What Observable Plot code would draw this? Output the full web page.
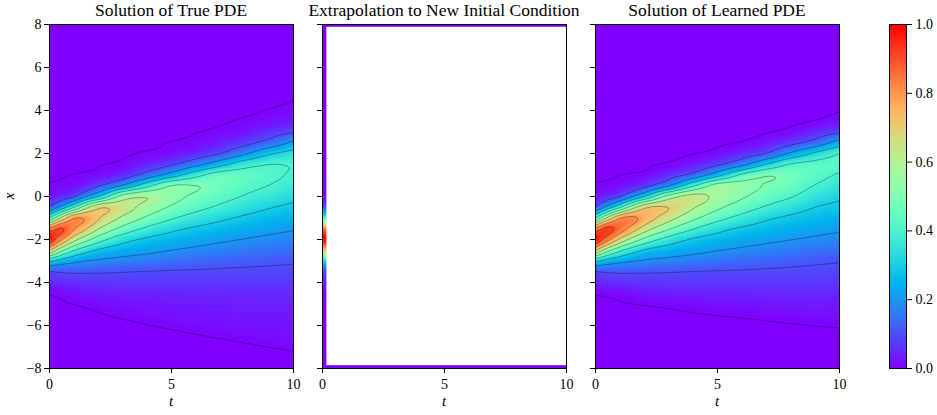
<!DOCTYPE html>
<html>
<head>
<meta charset="utf-8">
<script src="https://cdn.jsdelivr.net/npm/d3@7"></script>
<script src="https://cdn.jsdelivr.net/npm/@observablehq/plot@0.6"></script>
<style>
  body { margin: 0; background: #fff; }
  #fig { position: relative; width: 937px; height: 415px; background: #fff; }
  #fig svg { position: absolute; top: 0; }
  #fig svg, #fig svg text { font-family: 'Liberation Serif', 'Times New Roman', serif !important; }
</style>
</head>
<body>
<div id="fig"></div>
<script>
// ---------------- data ----------------
const tGrid = [0, 0.5, 1, 1.5, 2, 3, 4, 5, 6, 7, 8, 9, 10];
const xGrid = [8, 7, 6, 5.5, 5, 4.5, 4, 3.5, 3, 2.5, 2, 1.5, 1, 0.5, 0, -0.5, -1, -1.5, -2, -2.5, -3, -3.5, -4, -4.5, -5, -5.5, -6, -6.5, -7, -7.5, -8];

// u(t, x) of the true PDE: one row per xGrid value, one column per tGrid value
const truePDE = [
  [-.015,-.015,-.015,-.015,-.015,-.015,-.015,-.015,-.015,-.015,-.015,-.015,-.015],
  [-.015,-.015,-.015,-.015,-.015,-.015,-.015,-.015,-.015,-.015,-.015,-.015,-.015],
  [-.015,-.015,-.015,-.015,-.015,-.015,-.015,-.015,-.015,-.015,-.015,-.015,-.015],
  [-.015,-.015,-.015,-.015,-.015,-.015,-.015,-.015,-.015,-.015,-.015,-.015,-.015],
  [-.015,-.015,-.015,-.015,-.015,-.015,-.015,-.015,-.015,-.015,-.015,-.015,-.015],
  [-.015,-.015,-.015,-.015,-.015,-.015,-.015,-.015,-.015,-.015,-.015,-.0123,-.0009],
  [-.015,-.015,-.015,-.015,-.015,-.015,-.015,-.015,-.015,-.015,-.0087,.0027,.0141],
  [-.015,-.015,-.015,-.015,-.015,-.015,-.015,-.015,-.015,-.0051,.0063,.0177,.035],
  [-.015,-.015,-.015,-.015,-.015,-.015,-.015,-.0129,-.0015,.0099,.025,.061,.095],
  [-.015,-.015,-.015,-.015,-.015,-.015,-.0093,.0021,.0135,.04,.076,.134,.22],
  [-.015,-.015,-.015,-.015,-.015,-.0057,.0057,.018,.05,.1,.187,.284,.34],
  [-.015,-.015,-.0135,-.0078,-.0021,.0093,.043,.089,.169,.264,.358,.398,.393],
  [-.0099,-.0042,.0015,.0072,.0129,.05,.141,.248,.366,.447,.44,.418,.389],
  [.0051,.0108,.018,.045,.092,.214,.373,.501,.5,.465,.428,.398,.365],
  [.02,.05,.095,.2,.3,.54,.59,.532,.48,.435,.393,.359,.325],
  [.113,.244,.396,.567,.676,.644,.56,.488,.43,.383,.341,.306,.28],
  [.40,.627,.788,.785,.71,.58,.484,.411,.358,.318,.286,.263,.244],
  [.833,.905,.806,.705,.605,.468,.381,.322,.287,.263,.241,.222,.206],
  [.98,.803,.637,.533,.447,.339,.284,.257,.234,.214,.197,.183,.172],
  [.708,.525,.407,.337,.29,.246,.222,.2,.183,.169,.157,.147,.139],
  [.321,.26,.224,.2,.189,.172,.159,.145,.134,.125,.118,.112,.107],
  [.098,.108,.111,.109,.108,.103,.098,.095,.093,.091,.089,.088,.087],
  [.05,.055,.059,.0625,.065,.067,.068,.069,.069,.069,.07,.07,.07],
  [.0042,.0105,.02,.0325,.036,.04,.043,.045,.047,.049,.05,.052,.053],
  [-.0108,-.0045,.0015,.0066,.012,.021,.027,.03,.033,.036,.038,.04,.042],
  [-.015,-.015,-.0135,-.0084,-.003,.0066,.0141,.02,.024,.026,.028,.03,.031],
  [-.015,-.015,-.015,-.015,-.015,-.0084,-.0009,.006,.0126,.017,.02,.022,.024],
  [-.015,-.015,-.015,-.015,-.015,-.015,-.015,-.009,-.0024,.0036,.0096,.014,.018],
  [-.015,-.015,-.015,-.015,-.015,-.015,-.015,-.015,-.015,-.0114,-.0054,.0006,.006],
  [-.015,-.015,-.015,-.015,-.015,-.015,-.015,-.015,-.015,-.015,-.015,-.0144,-.009],
  [-.015,-.015,-.015,-.015,-.015,-.015,-.015,-.015,-.015,-.015,-.015,-.015,-.015]
];

// u(t, x) of the learned PDE
const learnedPDE = [
  [-.015,-.015,-.015,-.015,-.015,-.015,-.015,-.015,-.015,-.015,-.015,-.015,-.015],
  [-.015,-.015,-.015,-.015,-.015,-.015,-.015,-.015,-.015,-.015,-.015,-.015,-.015],
  [-.015,-.015,-.015,-.015,-.015,-.015,-.015,-.015,-.015,-.015,-.015,-.015,-.015],
  [-.015,-.015,-.015,-.015,-.015,-.015,-.015,-.015,-.015,-.015,-.015,-.015,-.015],
  [-.015,-.015,-.015,-.015,-.015,-.015,-.015,-.015,-.015,-.015,-.015,-.015,-.015],
  [-.015,-.015,-.015,-.015,-.015,-.015,-.015,-.015,-.015,-.015,-.015,-.015,-.015],
  [-.015,-.015,-.015,-.015,-.015,-.015,-.015,-.015,-.015,-.015,-.015,-.0129,-.0033],
  [-.015,-.015,-.015,-.015,-.015,-.015,-.015,-.015,-.015,-.015,-.0075,.0026,.027],
  [-.015,-.015,-.015,-.015,-.015,-.015,-.015,-.015,-.012,-.0024,.0138,.05,.095],
  [-.015,-.015,-.015,-.015,-.015,-.015,-.015,-.0066,.004,.03,.076,.138,.245],
  [-.015,-.015,-.015,-.015,-.015,-.0108,-.0012,.016,.054,.105,.215,.317,.399],
  [-.015,-.015,-.015,-.0105,-.0057,.0062,.035,.085,.17,.3,.405,.428,.43],
  [-.0099,-.0051,-.0003,.0045,.0093,.06,.13,.265,.416,.49,.474,.43,.39],
  [.0051,.0099,.018,.035,.075,.194,.387,.542,.538,.491,.454,.396,.352],
  [.02,.055,.10,.195,.3,.54,.633,.571,.512,.452,.407,.348,.314],
  [.113,.244,.391,.551,.675,.697,.609,.519,.45,.39,.343,.3,.279],
  [.40,.625,.789,.82,.76,.638,.524,.433,.368,.315,.284,.263,.245],
  [.833,.923,.854,.753,.654,.511,.405,.331,.288,.264,.243,.226,.211],
  [.98,.829,.679,.566,.476,.359,.29,.26,.237,.218,.202,.188,.176],
  [.708,.537,.423,.348,.294,.252,.226,.203,.186,.172,.16,.149,.14],
  [.321,.26,.227,.205,.192,.176,.162,.147,.136,.127,.118,.11,.104],
  [.098,.108,.111,.109,.108,.104,.099,.096,.094,.091,.089,.087,.085],
  [.05,.055,.059,.062,.065,.066,.068,.068,.068,.069,.07,.07,.066],
  [.0042,.0084,.012,.02,.03,.037,.04,.043,.045,.047,.048,.049,.046],
  [-.0108,-.0066,-.003,0,.003,.0081,.0126,.02,.024,.027,.03,.033,.03],
  [-.015,-.015,-.015,-.015,-.012,-.0069,-.0024,.0015,.0054,.009,.0126,.017,.0189],
  [-.015,-.015,-.015,-.015,-.015,-.015,-.015,-.0135,-.0096,-.006,-.0024,.0009,.0039],
  [-.015,-.015,-.015,-.015,-.015,-.015,-.015,-.015,-.015,-.015,-.015,-.0141,-.0111],
  [-.015,-.015,-.015,-.015,-.015,-.015,-.015,-.015,-.015,-.015,-.015,-.015,-.015],
  [-.015,-.015,-.015,-.015,-.015,-.015,-.015,-.015,-.015,-.015,-.015,-.015,-.015],
  [-.015,-.015,-.015,-.015,-.015,-.015,-.015,-.015,-.015,-.015,-.015,-.015,-.015]
];

// extrapolation: only the new initial condition (t = 0 column) and the zero boundary rows are defined
const newInitialCondition = truePDE.map(row => row[0]);
const boundaryValue = 0;
const solverStep = {t: 0.16, x: 0.13};   // size of one cell of the solver grid

const contourLevels = [0, 0.1, 0.2, 0.3, 0.4, 0.5, 0.6, 0.7, 0.8, 0.9];
const xTicks = [0, 5, 10];
const yTicks = [-8, -6, -4, -2, 0, 2, 4, 6, 8];
const colorbarTicks = [0, 0.2, 0.4, 0.6, 0.8, 1.0];
const titles = ["Solution of True PDE", "Extrapolation to New Initial Condition", "Solution of Learned PDE"];

// ---------------- smooth (bicubic Hermite) resampling of the sampled grids ----------------
function tangents(xs, ys) {
  const n = xs.length, m = new Array(n);
  const s = k => (ys[k + 1] - ys[k]) / (xs[k + 1] - xs[k]);
  for (let k = 0; k < n; k++) {
    if (k === 0) m[k] = s(0);
    else if (k === n - 1) m[k] = s(n - 2);
    else {
      const h0 = xs[k] - xs[k - 1], h1 = xs[k + 1] - xs[k];
      m[k] = (s(k - 1) * h1 + s(k) * h0) / (h0 + h1);
    }
  }
  return m;
}
function findInterval(xs, x) {
  let lo = 0, hi = xs.length - 1;
  if (x <= xs[0]) return 0;
  if (x >= xs[hi]) return hi - 1;
  while (hi - lo > 1) { const mid = (lo + hi) >> 1; if (xs[mid] <= x) lo = mid; else hi = mid; }
  return lo;
}
function hermite(xs, ys, m, i, x) {
  const h = xs[i + 1] - xs[i], u = Math.max(0, Math.min(1, (x - xs[i]) / h));
  const u2 = u * u, u3 = u2 * u;
  return (2 * u3 - 3 * u2 + 1) * ys[i] + (u3 - 2 * u2 + u) * h * m[i] + (-2 * u3 + 3 * u2) * ys[i + 1] + (u3 - u2) * h * m[i + 1];
}
const xAsc = xGrid.slice().reverse();
function makeField(grid) {
  const rows = grid.slice().reverse();                 // ascending x
  const tan = rows.map(r => tangents(tGrid, r));
  return (t, x) => {
    const ti = findInterval(tGrid, t);
    const xi = findInterval(xAsc, x);
    const lo = Math.max(0, xi - 1), hi = Math.min(xAsc.length - 1, xi + 2);
    const xs = [], vs = [];
    for (let k = lo; k <= hi; k++) { xs.push(xAsc[k]); vs.push(hermite(tGrid, rows[k], tan[k], ti, t)); }
    return hermite(xs, vs, tangents(xs, vs), xi - lo, x);
  };
}
function makeProfile(values) {
  const ys = values.slice().reverse(), m = tangents(xAsc, ys);
  return x => hermite(xAsc, ys, m, findInterval(xAsc, x), x);
}

// ---------------- helpers ----------------
const fig = document.getElementById("fig");
const FONT = "'Liberation Serif', 'Times New Roman', serif";
const fmt = d => (d < 0 ? "\u2212" + Math.abs(d) : String(d));
// matplotlib "rainbow" colormap
const rainbow = t => {
  const r = Math.min(1, Math.abs(2 * t - 0.5)), g = Math.sin(Math.PI * t), b = Math.cos(Math.PI * t / 2);
  return `rgb(${Math.round(255 * r)},${Math.round(255 * g)},${Math.max(0, Math.round(255 * b))})`;
};
const colorScale = {type: "linear", domain: [0, 1], interpolate: rainbow, clamp: true};

const FRAME_W = 244, TOP = 24, BOTTOM = 47, H = 415;
const style = {fontFamily: FONT, fontSize: "14px", background: "transparent", color: "black", overflow: "visible"};

function panel(left, marginLeft, yLabels, marks) {
  const p = Plot.plot({
    width: marginLeft + FRAME_W + 10, height: H,
    marginLeft, marginRight: 10, marginTop: TOP, marginBottom: BOTTOM,
    x: {domain: [0, 10]}, y: {domain: [-8, 8]},
    color: colorScale,
    style,
    marks: [
      ...marks,
      Plot.frame({stroke: "black", strokeWidth: 1}),
      Plot.axisX({ticks: xTicks, tickSize: 5, tickPadding: 6, tickFormat: fmt, label: null, fontFamily: FONT}),
      Plot.axisY({ticks: yTicks, tickSize: 5, tickPadding: 3, tickFormat: yLabels ? fmt : () => "", label: null, fontFamily: FONT})
    ]
  });
  p.style.left = left + "px";
  fig.appendChild(p);
}

function fieldMarks(grid) {
  const f = makeField(grid);
  return [
    Plot.raster({fill: f, x1: 0, x2: 10, y1: -8, y2: 8, pixelSize: 1}),
    Plot.contour({value: f, x1: 0, x2: 10, y1: -8, y2: 8, pixelSize: 1, thresholds: contourLevels,
      fill: "none", stroke: "black", strokeOpacity: 0.4, strokeWidth: 0.8})
  ];
}

// panel 1: true PDE
panel(0, 49, true, fieldMarks(truePDE));

// panel 2: extrapolation
const ic = makeProfile(newInitialCondition);
const boundaryCells = [
  {t1: 0, t2: 10, x1: 8 - solverStep.x, x2: 8, u: boundaryValue},
  {t1: 0, t2: 10, x1: -8, x2: -8 + solverStep.x, u: boundaryValue}
];
panel(312, 10, false, [
  Plot.raster({fill: (t, x) => ic(x), x1: 0, x2: solverStep.t, y1: -8, y2: 8, pixelSize: 1}),
  Plot.rect(boundaryCells, {x1: "t1", x2: "t2", y1: "x1", y2: "x2", fill: "u"})
]);

// panel 3: learned PDE
panel(585, 10, false, fieldMarks(learnedPDE));

// colorbar
const cb = Plot.plot({
  width: 10 + 17 + 45, height: H,
  marginLeft: 10, marginRight: 45, marginTop: TOP, marginBottom: BOTTOM,
  x: {domain: [0, 1], axis: null}, y: {domain: [0, 1]},
  color: colorScale,
  style,
  marks: [
    Plot.raster({fill: (x, y) => y, x1: 0, x2: 1, y1: 0, y2: 1, pixelSize: 1}),
    Plot.frame({stroke: "black", strokeWidth: 1}),
    Plot.axisY({anchor: "right", ticks: colorbarTicks, tickSize: 5, tickPadding: 4, tickFormat: d => d.toFixed(1), label: null, fontFamily: FONT})
  ]
});
cb.style.left = "879px";
fig.appendChild(cb);

// titles and axis labels
const overlay = d3.select(fig).append("svg").attr("width", 937).attr("height", 415)
  .style("left", "0px").style("pointer-events", "none")
  .attr("font-family", FONT);
const centers = [49 + FRAME_W / 2, 322 + FRAME_W / 2, 595 + FRAME_W / 2];
titles.forEach((s, i) => overlay.append("text").attr("x", centers[i]).attr("y", 16).attr("text-anchor", "middle").attr("font-size", 17.5).text(s));
centers.forEach(c => overlay.append("text").attr("x", c).attr("y", 406).attr("text-anchor", "middle").attr("font-size", 15).attr("font-style", "italic").text("t"));
overlay.append("text").attr("transform", "translate(14,196) rotate(-90)").attr("text-anchor", "middle").attr("font-size", 15).attr("font-style", "italic").text("x");
</script>
</body>
</html>
